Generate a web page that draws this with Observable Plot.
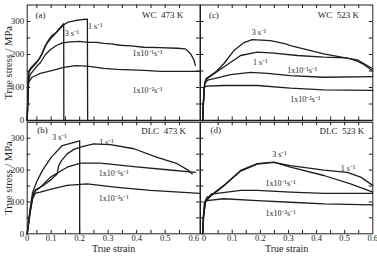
<!DOCTYPE html>
<html><head><meta charset="utf-8">
<script src="https://cdn.jsdelivr.net/npm/d3@7"></script>
<script src="https://cdn.jsdelivr.net/npm/@observablehq/plot@0.6"></script>
<style>
html,body{margin:0;padding:0;background:#fff;}
#chart{position:relative;width:377px;height:256px;overflow:hidden;background:#fff;}
#chart svg{position:absolute;overflow:visible;background:transparent;}
</style></head><body><div id="chart"></div>
<script>
// ---- tick values / labels ----
const xTickLabels = [0, 0.1, 0.2, 0.3, 0.4, 0.5, 0.6];
const xMinorTicks = [0.05, 0.1, 0.15, 0.2, 0.25, 0.3, 0.35, 0.4, 0.45, 0.5, 0.55];
const yTickLabels = [0, 100, 200, 300];
const yMinorTicks = [50, 100, 150, 200, 250, 300];
const panelTags = ["(a)", "(c)", "(b)", "(d)"];
const panelTitles = ["WC  473 K", "WC  523 K", "DLC  473 K", "DLC  523 K"];
const rateLabels = ["3 s\u207B\u00B9", "1 s\u207B\u00B9", "1x10\u207B\u00B9s\u207B\u00B9", "1x10\u207B\u00B2s\u207B\u00B9"];

// ---- curves: [true strain, true stress (MPa)] ----
// (a) WC 473 K
const wc473_3s = [[0.016,0],[0.018,60],[0.019,120],[0.021,145],[0.027,158],[0.04,170],[0.056,184],[0.07,205],[0.086,237],[0.1,255],[0.115,265],[0.13,280],[0.144,293],[0.1445,0]];
const wc473_1s = [[0.016,0],[0.018,70],[0.02,125],[0.023,150],[0.033,160],[0.05,176],[0.062,192],[0.08,228],[0.1,250],[0.12,268],[0.144,290],[0.16,298],[0.185,303],[0.21,306],[0.227,307],[0.228,0]];
const wc473_e1 = [[0.016,0],[0.018,60],[0.021,120],[0.027,140],[0.05,165],[0.062,175],[0.08,200],[0.098,215],[0.12,228],[0.14,235],[0.168,238],[0.2,240],[0.226,237],[0.26,237],[0.285,234],[0.31,232],[0.343,228],[0.38,226],[0.425,222],[0.48,221],[0.542,219],[0.571,217],[0.589,202],[0.6,185],[0.606,167]];
const wc473_e2 = [[0.016,0],[0.018,50],[0.021,116],[0.033,131],[0.062,143],[0.109,153],[0.144,161],[0.185,166],[0.226,165],[0.285,158],[0.332,155],[0.425,152],[0.484,149],[0.542,149],[0.62,149]];
// (c) WC 523 K
const wc523_3s = [[-0.005,0],[-0.002,60],[0.002,115],[0.008,128],[0.023,136],[0.045,150],[0.07,172],[0.106,212],[0.14,235],[0.171,245],[0.236,242],[0.29,232],[0.307,227],[0.426,202],[0.503,190],[0.521,187],[0.545,180],[0.568,170],[0.6,150]];
const wc523_1s = [[-0.005,0],[-0.002,60],[0.002,110],[0.008,125],[0.023,134],[0.07,162],[0.13,197],[0.189,207],[0.248,204],[0.331,197],[0.426,192],[0.503,190],[0.545,184],[0.557,178],[0.6,157]];
const wc523_e1 = [[-0.005,0],[-0.002,60],[0.002,112],[0.012,122],[0.047,129],[0.094,139],[0.165,146],[0.225,143],[0.307,136],[0.426,131],[0.6,133]];
const wc523_e2 = [[-0.005,0],[-0.003,50],[0,100],[0.008,104],[0.07,106],[0.189,106],[0.307,98],[0.426,93],[0.6,91]];
// (b) DLC 473 K
const dlc473_3s = [[0.016,0],[0.025,70],[0.035,130],[0.05,165],[0.07,200],[0.1,240],[0.139,277],[0.2,292],[0.2,0]];
const dlc473_1s = [[0.016,0],[0.025,65],[0.035,120],[0.045,138],[0.07,150],[0.1,170],[0.121,188],[0.126,212],[0.135,228],[0.156,251],[0.18,265],[0.203,272],[0.249,282],[0.308,280],[0.39,267],[0.472,240],[0.542,220],[0.58,200],[0.595,188]];
const dlc473_e1 = [[0.016,0],[0.025,60],[0.035,115],[0.045,135],[0.06,145],[0.098,178],[0.156,209],[0.203,222],[0.273,222],[0.39,211],[0.507,201],[0.606,193]];
const dlc473_e2 = [[0.016,0],[0.025,60],[0.035,110],[0.045,128],[0.062,131],[0.1,140],[0.156,152],[0.226,157],[0.332,146],[0.448,136],[0.622,127]];
// (d) DLC 523 K
const dlc523_3s = [[-0.005,0],[-0.002,55],[0.005,104],[0.023,120],[0.07,152],[0.13,199],[0.189,220],[0.248,225],[0.307,209],[0.426,183],[0.521,157],[0.6,131]];
const dlc523_1s = [[-0.005,0],[-0.002,55],[0.005,100],[0.023,118],[0.07,150],[0.13,197],[0.189,219],[0.248,224],[0.307,214],[0.426,200],[0.509,193],[0.557,178],[0.6,152]];
const dlc523_e1 = [[-0.005,0],[-0.002,50],[0.003,100],[0.01,115],[0.02,118],[0.025,125],[0.047,127],[0.13,136],[0.189,136],[0.307,131],[0.426,127],[0.6,127]];
const dlc523_e2 = [[-0.005,0],[-0.003,50],[0.001,98],[0.01,104],[0.07,110],[0.189,104],[0.307,99],[0.426,94],[0.6,91]];

// label anchor points in data units [strain, stress]
const labelsA = [[0.173,264],[0.255,285],[0.438,203],[0.438,91]];
const labelsC = [[0.195,268],[0.2,177],[0.349,152],[0.36,63]];
const labelsB = [[0.129,301],[0.294,287],[0.319,188],[0.319,110]];
const labelsD = [[0.268,249],[0.512,204],[0.272,159],[0.272,63]];
const tagPos = [[0.045,318],[0.017,318],[0.051,324],[0.023,324]];
const titlePos = [[0.491,318],[0.478,318],[0.494,322],[0.49,322]];

const FONT = "'Liberation Serif', 'Times New Roman', serif";
const INK = "#1e1e1e";
const chart = document.getElementById("chart");

function panel(i, curves, labels, o) {
  const fw = o.width - o.ml - o.mr, fh = o.height - o.mt - o.mb, tl = 3.5;
  const ppx = fw / (o.xd[1] - o.xd[0]);           // pixels per strain unit
  const xIn = xMinorTicks.filter(v => v > o.xd[0] && v < o.xd[1]);
  const marks = [];
  if (o.sep) marks.push(Plot.ruleY([0], {stroke: "#c6c6c6", strokeWidth: 3}));
  curves.forEach(c => marks.push(Plot.line(c, {x: d => d[0], y: d => d[1], stroke: INK, strokeWidth: 1.3})));
  marks.push(Plot.ruleX(xIn, {x: d => d, insetTop: fh - tl, stroke: INK}));
  marks.push(Plot.ruleX(xIn, {x: d => d, insetBottom: fh - tl, stroke: INK}));
  marks.push(Plot.ruleY(yMinorTicks, {y: d => d, insetRight: fw - tl, stroke: INK}));
  marks.push(Plot.ruleY(yMinorTicks, {y: d => d, insetLeft: fw - tl, stroke: INK}));
  marks.push(Plot.frame({stroke: INK}));
  marks.push(Plot.text(rateLabels, {x: (d, j) => labels[j][0], y: (d, j) => labels[j][1], text: d => d, fontSize: 8, fill: INK}));
  marks.push(Plot.text([panelTags[i]], {x: tagPos[i][0], y: tagPos[i][1], text: d => d, fontSize: 9, fill: INK, textAnchor: "start"}));
  marks.push(Plot.text([panelTitles[i]], {x: titlePos[i][0], y: titlePos[i][1], text: d => d, fontSize: 9, fill: INK}));
  if (o.showY) {
    marks.push(Plot.text(yTickLabels, {x: o.xd[0], y: d => d, text: d => String(d), dx: -3, textAnchor: "end", fontSize: 9, fill: INK}));
    marks.push(Plot.text(["True stress / MPa"], {x: o.xd[0] - 19 / ppx, y: 175, text: d => d, rotate: -90, fontSize: 10.5, fill: INK, textAnchor: "middle"}));
  }
  if (o.showX) {
    marks.push(Plot.text(xTickLabels, {x: d => Math.max(d, o.xd[0]), y: 0, text: d => String(d), dy: 4.8, fontSize: 8.5, fill: INK}));
    marks.push(Plot.text(["True strain"], {frameAnchor: "bottom", dy: 15, text: d => d, fontSize: 10, fill: INK, lineAnchor: "middle"}));
  }
  const svg = Plot.plot({
    width: o.width, height: o.height,
    marginLeft: o.ml, marginRight: o.mr, marginTop: o.mt, marginBottom: o.mb,
    x: {domain: o.xd, axis: null},
    y: {domain: [0, 350], axis: null},
    style: {fontFamily: FONT, background: "transparent", overflow: "visible", color: INK},
    marks
  });
  svg.style.left = o.left + "px";
  svg.style.top = o.top + "px";
  chart.appendChild(svg);
}

const leftX = [0.016, 0.622], rightX = [-0.0128, 0.6];
panel(0, [wc473_3s, wc473_1s, wc473_e1, wc473_e2], labelsA, {left: 0, top: 0, width: 200, height: 121, ml: 26.7, mr: 0.5, mt: 4.5, mb: 1, xd: leftX, sep: true, showY: true});
panel(1, [wc523_3s, wc523_1s, wc523_e1, wc523_e2], labelsC, {left: 200, top: 0, width: 177, height: 121, ml: 0, mr: 4.7, mt: 4.5, mb: 1, xd: rightX, sep: true});
panel(2, [dlc473_3s, dlc473_1s, dlc473_e1, dlc473_e2], labelsB, {left: 0, top: 120, width: 200, height: 136, ml: 26.7, mr: 0.5, mt: 1.8, mb: 22.7, xd: leftX, showY: true, showX: true});
panel(3, [dlc523_3s, dlc523_1s, dlc523_e1, dlc523_e2], labelsD, {left: 200, top: 120, width: 177, height: 136, ml: 0, mr: 4.7, mt: 1.8, mb: 22.7, xd: rightX, showX: true});
</script></body></html>
